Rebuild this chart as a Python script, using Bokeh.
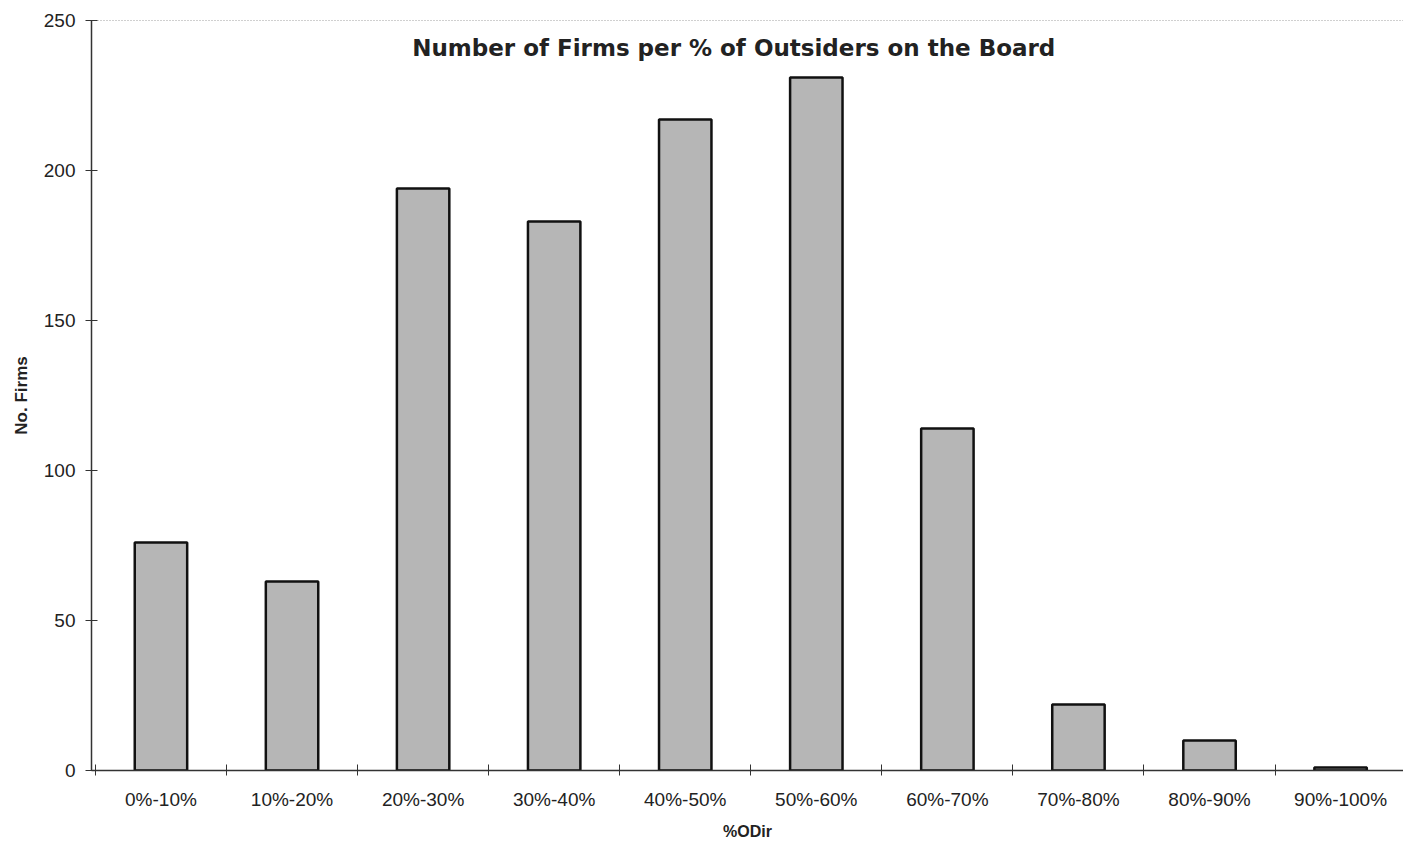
from bokeh.plotting import figure
from bokeh.models import FixedTicker, Range1d, Label, ColumnDataSource, Span
from bokeh.embed import file_html
from bokeh.resources import INLINE

categories = ["0%-10%", "10%-20%", "20%-30%", "30%-40%", "40%-50%",
              "50%-60%", "60%-70%", "70%-80%", "80%-90%", "90%-100%"]
firms = [76, 63, 194, 183, 217, 231, 114, 22, 10, 1]
y_ticks = [0, 50, 100, 150, 200, 250]
title_text = "Number of Firms per % of Outsiders on the Board"
x_label = "%ODir"
y_label = "No. Firms"

FONT = "Liberation Sans"
TXT = "#222222"

centers = [i + 0.5 for i in range(len(categories))]
bounds = [float(i) for i in range(len(categories) + 1)]

src = ColumnDataSource(dict(x=centers, top=firms, cat=categories))

p = figure(width=1403, height=843, output_backend="svg", toolbar_location=None,
           x_range=Range1d(-0.03, 9.98), y_range=Range1d(0, max(y_ticks)),
           min_border_left=91, min_border_right=0, min_border_top=20,
           min_border_bottom=73)

p.vbar(x="x", top="top", width=0.4, source=src, fill_color="#b6b6b6",
       line_color="#111111", line_width=2.5)

p.outline_line_color = None
p.background_fill_color = "white"
p.border_fill_color = "white"
p.xgrid.visible = False
p.ygrid.visible = False

# top dotted line at the range end
p.add_layout(Span(location=max(y_ticks), dimension="width", line_color="#444444",
                  line_dash="1 2", line_width=1))

# x axis
xa = p.xaxis[0]
xa.ticker = FixedTicker(ticks=centers, minor_ticks=bounds)
xa.major_label_overrides = {c: lab for c, lab in zip(centers, categories)}
xa.major_tick_in = 0
xa.major_tick_out = 0
xa.minor_tick_in = 6
xa.minor_tick_out = 5
xa.minor_tick_line_color = "#333333"
xa.axis_line_color = "#333333"
xa.axis_line_width = 1.5
xa.major_label_text_font = FONT
xa.major_label_text_font_size = "19px"
xa.major_label_text_color = TXT
xa.major_label_standoff = 13
xa.axis_label = x_label
xa.axis_label_text_font = FONT
xa.axis_label_text_font_size = "16px"
xa.axis_label_text_font_style = "bold"
xa.axis_label_text_color = TXT
xa.axis_label_standoff = 10

# y axis
ya = p.yaxis[0]
ya.ticker = FixedTicker(ticks=y_ticks)
ya.major_tick_in = 6
ya.major_tick_out = 6
ya.minor_tick_line_color = None
ya.major_tick_line_color = "#333333"
ya.axis_line_color = "#333333"
ya.axis_line_width = 1.5
ya.major_label_text_font = FONT
ya.major_label_text_font_size = "19px"
ya.major_label_text_color = TXT
ya.major_label_standoff = 10
ya.axis_label = y_label
ya.axis_label_text_font = FONT
ya.axis_label_text_font_size = "17px"
ya.axis_label_text_font_style = "bold"
ya.axis_label_text_color = TXT
ya.axis_label_standoff = 10

title = Label(x=4.87, y=241, text=title_text, text_font="DejaVu Sans",
              text_font_size="23px", text_font_style="bold", text_color=TXT,
              text_align="center", text_baseline="middle")
p.add_layout(title)

open("out.html", "w").write(file_html(p, INLINE))
